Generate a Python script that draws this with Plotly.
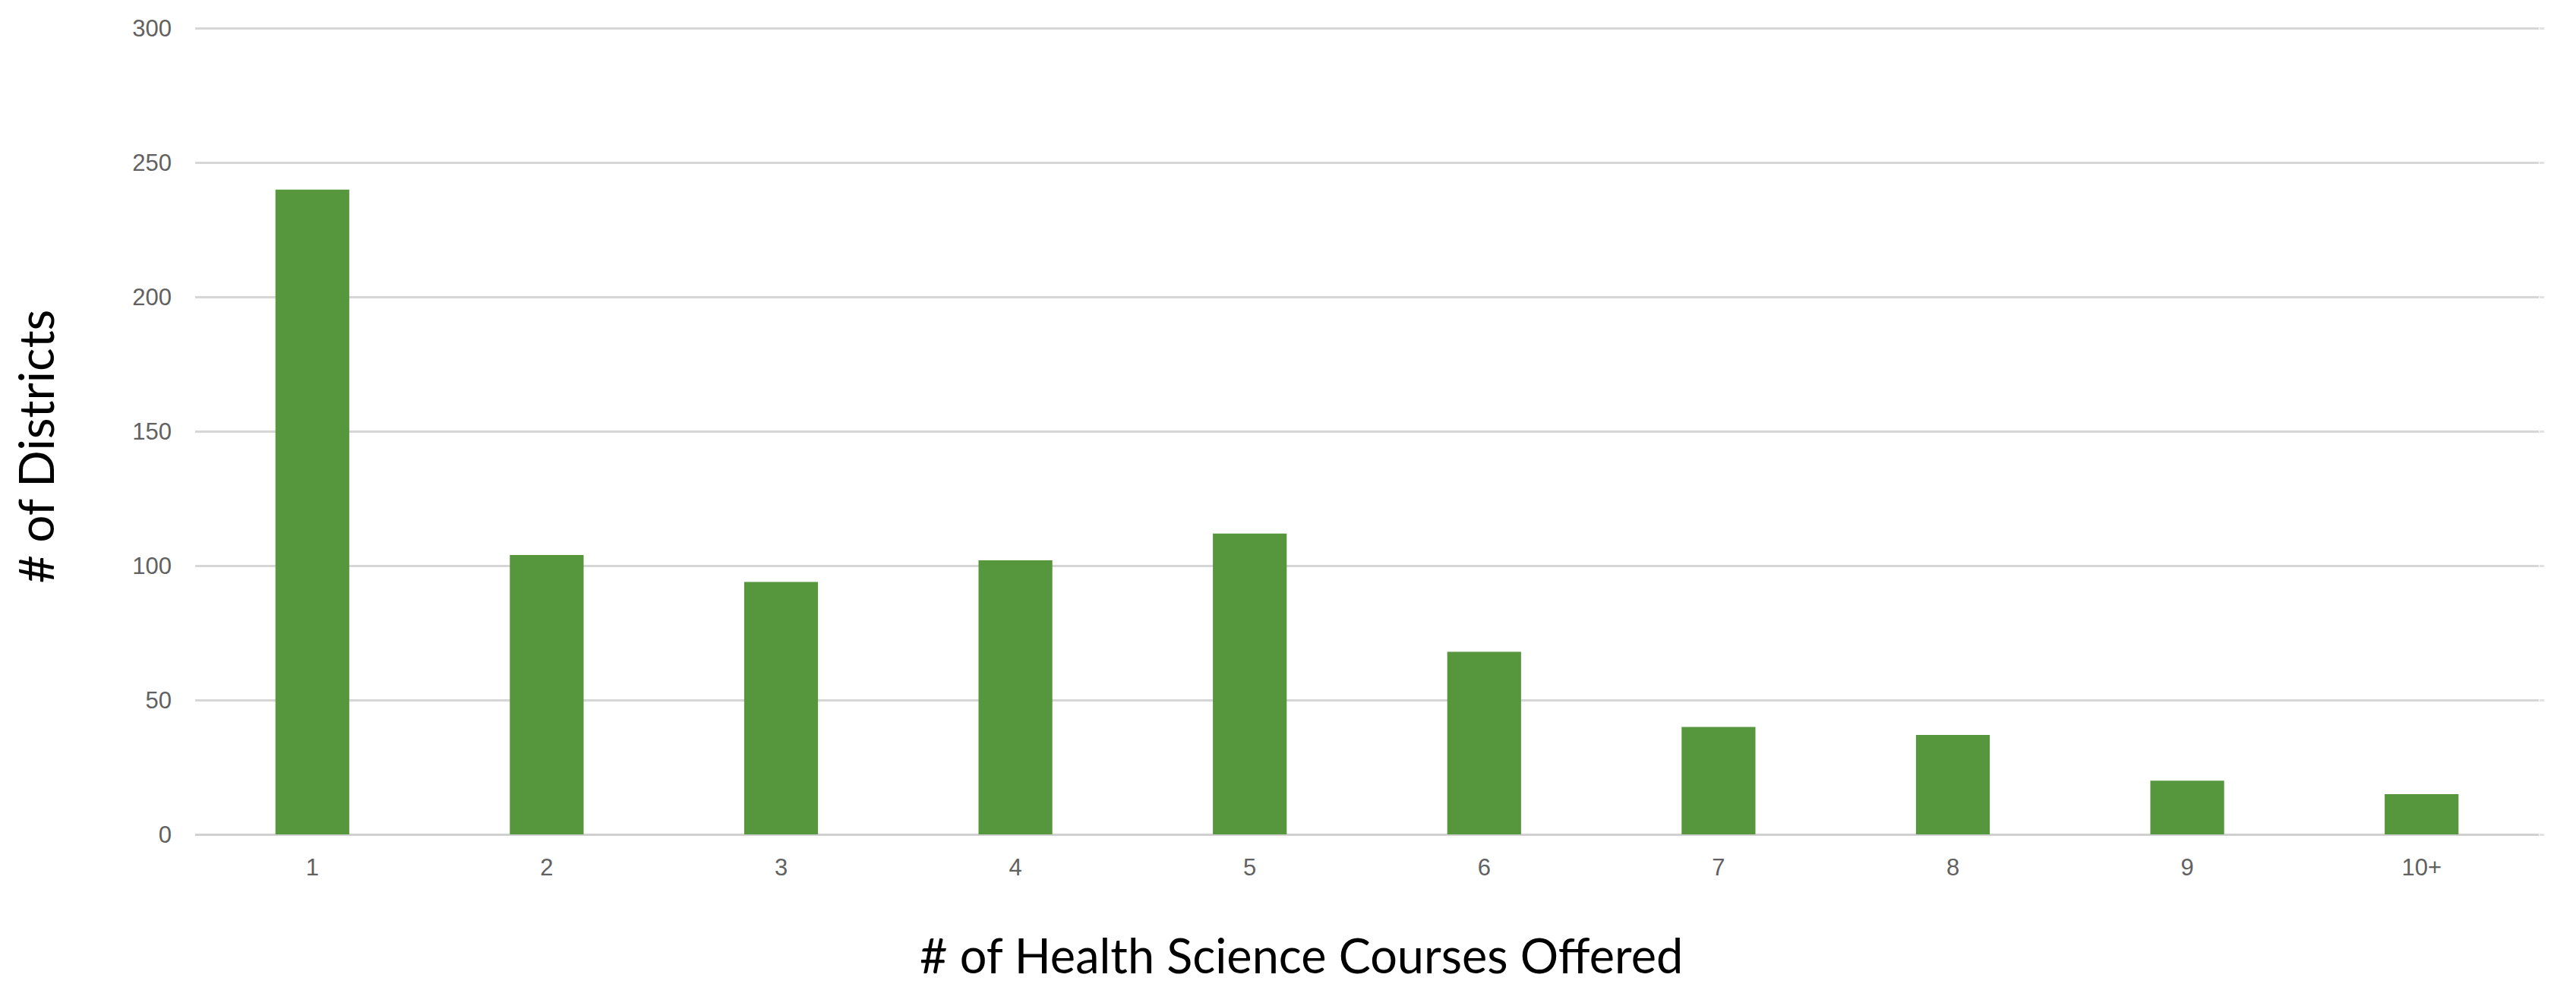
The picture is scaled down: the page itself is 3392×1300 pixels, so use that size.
import plotly.graph_objects as go

categories = ["1", "2", "3", "4", "5", "6", "7", "8", "9", "10+"]
districts = [240, 104, 94, 102, 112, 68, 40, 37, 20, 15]
y_ticks = [0, 50, 100, 150, 200, 250, 300]

x_title = "# of Health Science Courses Offered"
y_title = "# of Districts"

# page body has an 8px margin; work in reference pixel coords minus 8
OFF = 8
W, H = 3392 - OFF, 1300 - OFF
plot_left, plot_right = 257 - OFF, 3343 - OFF
zero_y, top_y = 1099 - OFF, 31 - OFF
y_max = 301
px_per_unit = (zero_y - top_y) / 300.0
T = int(round(zero_y - px_per_unit * y_max))
L, R, B = plot_left, W - plot_right, H - zero_y
plot_w = W - L - R
plot_h = H - T - B

fig = go.Figure()
fig.add_trace(go.Bar(
    x=categories, y=districts,
    marker=dict(color="#56963c", line=dict(width=0)),
    hoverinfo="x+y",
))
fig.add_trace(go.Scatter(x=categories, y=districts, yaxis="y2", mode="none",
                         showlegend=False, hoverinfo="skip"))

tick_font = dict(family="Liberation Sans, Arial, sans-serif", size=31, color="#616161")


def px_to_paper_x(px):
    return (px - OFF - L) / plot_w


def px_to_paper_y(py):
    return (T + plot_h - (py - OFF)) / plot_h


fig.update_layout(
    width=W, height=H,
    margin=dict(l=L, r=R, t=T, b=B, pad=0),
    plot_bgcolor="white", paper_bgcolor="white",
    bargap=0.685,
    showlegend=False,
    xaxis=dict(
        type="category", range=[-0.5, 9.5],
        showgrid=False, showline=False, zeroline=False,
        ticks="", tickfont=tick_font, ticklabelstandoff=22,
    ),
    yaxis=dict(
        range=[0, y_max], tickvals=y_ticks, ticktext=[str(v) for v in y_ticks],
        showgrid=True, gridcolor="#d6d6d6", gridwidth=3,
        zeroline=True, zerolinecolor="#d0d0d0", zerolinewidth=3,
        showline=False, ticks="", tickfont=tick_font, ticklabelstandoff=30,
    ),
    yaxis2=dict(
        overlaying="y", side="right", range=[0, y_max], tickvals=y_ticks,
        showgrid=False, zeroline=False, showline=False, showticklabels=False,
        ticks="outside", ticklen=6, tickwidth=3, tickcolor="#e2e2e2",
    ),
    annotations=[
        dict(text=x_title, xref="paper", yref="paper",
             x=px_to_paper_x(1713), y=px_to_paper_y(1259),
             xanchor="center", yanchor="middle", showarrow=False,
             font=dict(family="Lato, sans-serif", size=63, color="#000000")),
        dict(text=y_title, xref="paper", yref="paper",
             x=px_to_paper_x(46), y=px_to_paper_y(585),
             xanchor="center", yanchor="middle", showarrow=False, textangle=-90,
             font=dict(family="Lato, sans-serif", size=64, color="#000000")),
    ],
)

fig.write_html("out.html")
